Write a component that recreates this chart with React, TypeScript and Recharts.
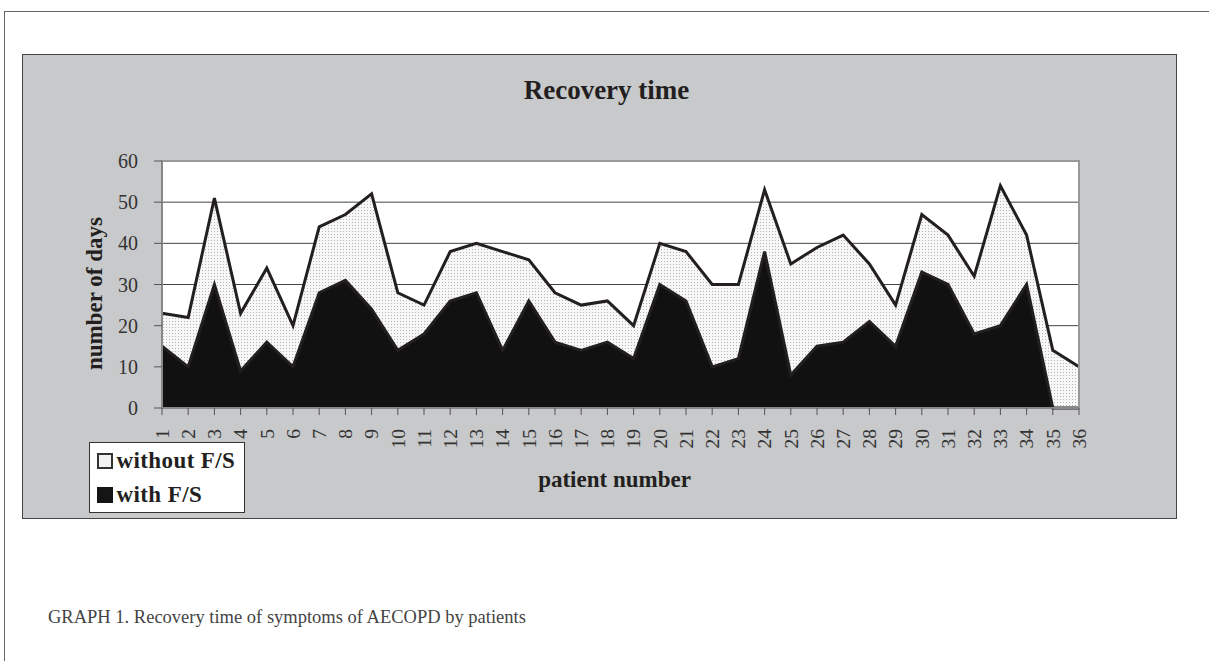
import { AreaChart, Area, XAxis, YAxis, CartesianGrid, ReferenceArea, Legend } from 'recharts';

const patients = ['1', '2', '3', '4', '5', '6', '7', '8', '9', '10', '11', '12', '13', '14', '15', '16', '17', '18',
    '19', '20', '21', '22', '23', '24', '25', '26', '27', '28', '29', '30', '31', '32', '33', '34', '35', '36'];
const withoutFS = [23, 22, 51, 23, 34, 20, 44, 47, 52, 28, 25, 38, 40, 38, 36, 28, 25, 26,
    20, 40, 38, 30, 30, 53, 35, 39, 42, 35, 25, 47, 42, 32, 54, 42, 14, 10];
const withFS = [15, 10, 30, 9, 16, 10, 28, 31, 24, 14, 18, 26, 28, 14, 26, 16, 14, 16,
    12, 30, 26, 10, 12, 38, 8, 15, 16, 21, 15, 33, 30, 18, 20, 30, 0, 0];
const yTicks = [0, 10, 20, 30, 40, 50, 60];

const data = patients.map((p, i) => ({ patient: p, without: withoutFS[i], with: withFS[i] }));

const serif = '"Liberation Serif", "DejaVu Serif", serif';

const XTick = ({ x, y, payload }: any) => (
    <text
        x={x}
        y={y}
        transform={`rotate(-90 ${x} ${y})`}
        textAnchor="end"
        dy="0.35em"
        fontFamily={serif}
        fontSize={19.5}
        fill="#333"
    >
        {payload.value}
    </text>
);

// axis titles drawn from the axis viewBox
const YTitle = ({ viewBox }: any) => {
    const cx = viewBox.x + 72;
    const cy = viewBox.y + viewBox.height / 2 + 9;
    return (
        <text x={cx} y={cy} transform={`rotate(-90 ${cx} ${cy})`} textAnchor="middle" dominantBaseline="central"
            fontFamily={serif} fontWeight="bold" fontSize={23} fill="#231f20">
            number of days
        </text>
    );
};

const XTitle = ({ viewBox }: any) => (
    <text x={viewBox.x + viewBox.width / 2 - 6} y={viewBox.y + 71} textAnchor="middle" dominantBaseline="central"
        fontFamily={serif} fontWeight="bold" fontSize={23} fill="#231f20">
        patient number
    </text>
);

const LegendBox = () => (
    <div style={{ background: '#fff', border: '1px solid #333', padding: '1px 4px 0 7px', fontFamily: serif, fontWeight: 'bold', fontSize: 23, letterSpacing: 0.4, color: '#231f20', lineHeight: '34px', boxSizing: 'border-box', height: 71 }}>
        <div style={{ display: 'flex', alignItems: 'center' }}>
            <span style={{ display: 'inline-block', width: 12, height: 12, border: '2px solid #333', background: '#f2f2f2', marginRight: 4 }} />
            without F/S
        </div>
        <div style={{ display: 'flex', alignItems: 'center' }}>
            <span style={{ display: 'inline-block', width: 16, height: 16, background: '#151515', marginRight: 4 }} />
            with F/S
        </div>
    </div>
);

export default function App() {
    return (
        <div style={{ position: 'absolute', left: 0, top: 0, width: 1209, height: 661, background: '#fff', overflow: 'hidden' }}>
            {/* page frame lines */}
            <div style={{ position: 'absolute', left: 4, top: 11, width: 1205, height: 0, borderTop: '1px solid #666' }} />
            <div style={{ position: 'absolute', left: 4, top: 11, width: 0, height: 650, borderLeft: '1px solid #666' }} />

            <div style={{ position: 'absolute', left: 22, top: 54, width: 1155, height: 465, background: '#c8c9cb', boxSizing: 'border-box', border: '1.5px solid #444' }}>
                <div style={{ position: 'absolute', left: 7, width: '100%', top: 20, textAlign: 'center', fontFamily: serif, fontWeight: 'bold', fontSize: 27, color: '#231f20' }}>
                    Recovery time
                </div>
                <div style={{ position: 'absolute', left: -1.5, top: -1.5 }}>
                    <AreaChart width={1155} height={465} data={data} margin={{ top: 107, right: 98, left: 0, bottom: 0 }}>
                        <defs>
                            <pattern id="dots" width="3" height="3" patternUnits="userSpaceOnUse">
                                <rect width="3" height="3" fill="#f7f7f7" />
                                <rect width="1" height="1" fill="#b5b5b5" />
                            </pattern>
                        </defs>
                        <CartesianGrid vertical={false} stroke="#444" fill="#fff" />
                        <XAxis
                            dataKey="patient"
                            interval={0}
                            height={111}
                            tickSize={7}
                            tickMargin={14}
                            tick={<XTick />}
                            axisLine={{ stroke: '#888', strokeWidth: 2 }}
                            tickLine={{ stroke: '#555' }}
                            label={<XTitle />}
                        />
                        <YAxis
                            width={140}
                            domain={[0, 60]}
                            ticks={yTicks}
                            tickSize={8}
                            tickMargin={16}
                            tick={{ fontFamily: serif, fontSize: 20, fill: '#333' }}
                            axisLine={{ stroke: '#888', strokeWidth: 2 }}
                            tickLine={{ stroke: '#555' }}
                            label={<YTitle />}
                        />
                        <Area
                            type="linear"
                            dataKey="without"
                            name="without F/S"
                            stroke="#231f20"
                            strokeWidth={3}
                            fill="url(#dots)"
                            fillOpacity={1}
                            isAnimationActive={false}
                        />
                        <Area
                            type="linear"
                            dataKey="with"
                            name="with F/S"
                            stroke="#231f20"
                            strokeWidth={3}
                            fill="#111"
                            fillOpacity={1}
                            isAnimationActive={false}
                        />
                        <ReferenceArea x1="1" x2="36" y1={0} y2={60} fill="none" stroke="#999" strokeWidth={2} ifOverflow="visible" />
                        <Legend
                            content={<LegendBox />}
                            layout="horizontal"
                            align="center"
                            verticalAlign="middle"
                            wrapperStyle={{ left: 67, top: 388, width: 156 }}
                        />
                    </AreaChart>
                </div>
            </div>

            <div style={{ position: 'absolute', left: 48, top: 607, fontFamily: serif, fontSize: 18.5, color: '#444', whiteSpace: 'nowrap' }}>
                GRAPH 1. Recovery time of symptoms of AECOPD by patients
            </div>
        </div>
    );
}
